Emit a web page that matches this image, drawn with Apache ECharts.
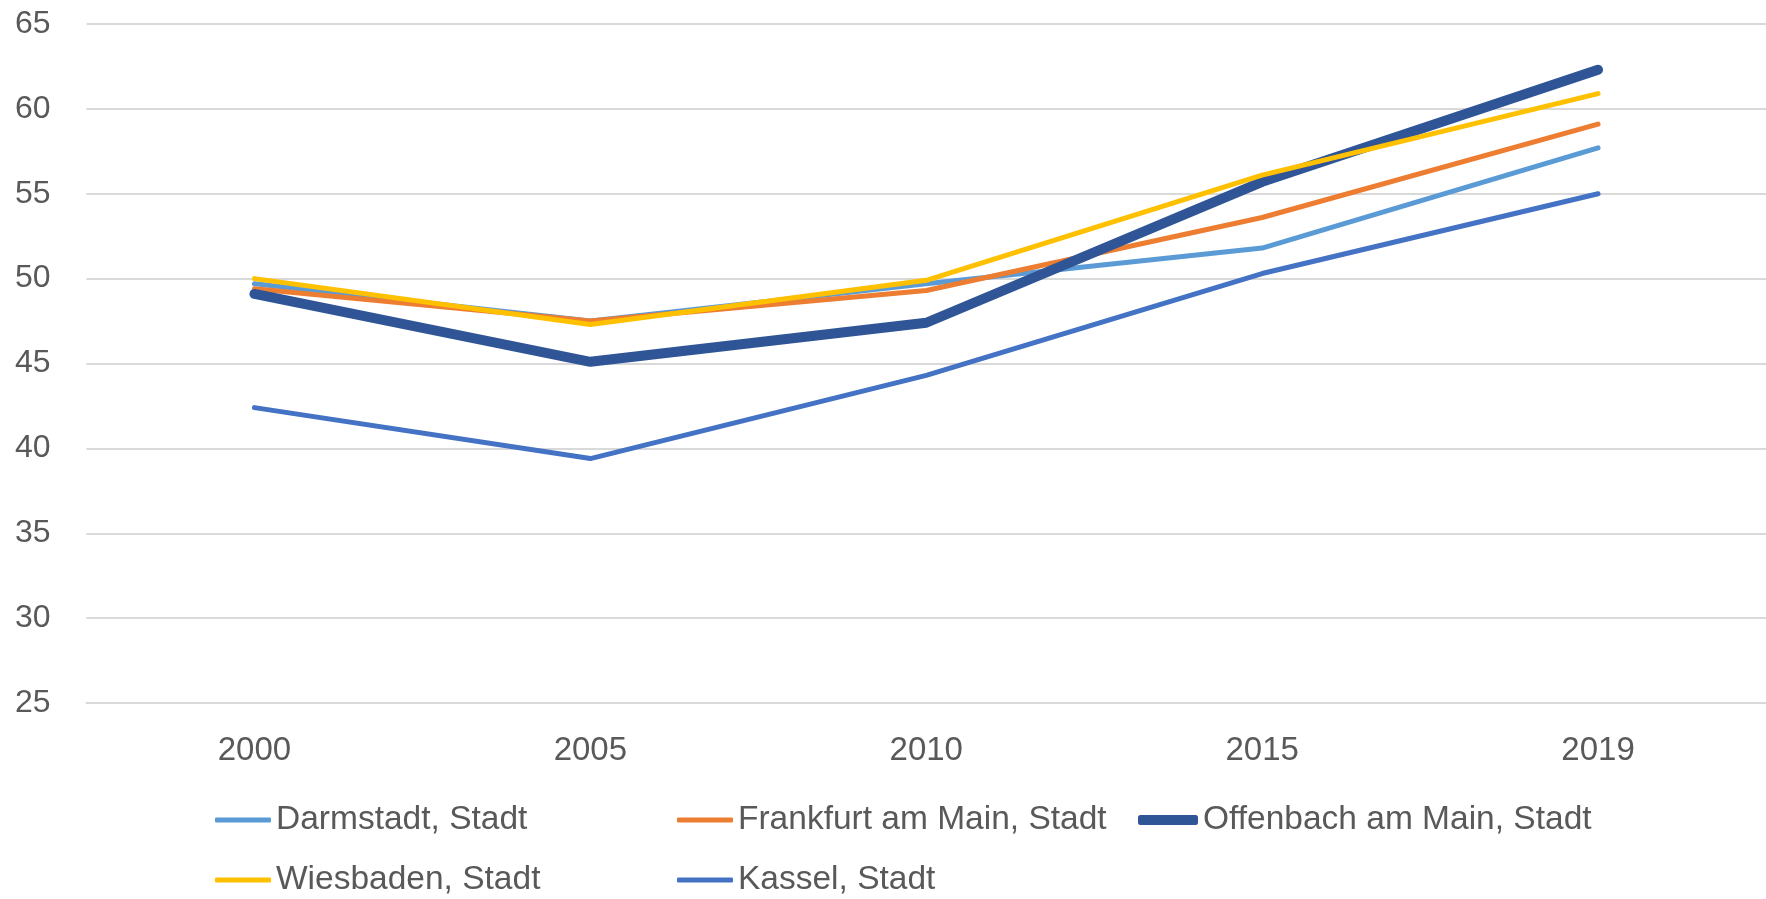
<!DOCTYPE html>
<html lang="de">

<head>
    <meta charset="UTF-8">
    <title>Hessen Städte</title>
    <script src="https://cdn.jsdelivr.net/npm/echarts@6/dist/echarts.min.js"></script>
    <style>
        html, body { margin: 0; padding: 0; background: #fff; }
    </style>
</head>

<body>
    <div id="main" style="width: 1766px;height:899px;"></div>

    <script type="text/javascript">
        // Values
        const years = ['2000', '2005', '2010', '2015', '2019'];
        const yTicks = [25, 30, 35, 40, 45, 50, 55, 60, 65];

        const darmstadt = [49.7, 47.5, 49.7, 51.8, 57.7];
        const frankfurt = [49.4, 47.5, 49.3, 53.6, 59.1];
        const offenbach = [49.1, 45.1, 47.4, 55.7, 62.3];
        const wiesbaden = [50.0, 47.3, 49.9, 56.1, 60.9];
        const kassel = [42.4, 39.4, 44.3, 50.3, 55.0];

        const seriesNames = ['Darmstadt, Stadt', 'Frankfurt am Main, Stadt', 'Offenbach am Main, Stadt', 'Wiesbaden, Stadt', 'Kassel, Stadt'];
        const seriesData = [darmstadt, frankfurt, offenbach, wiesbaden, kassel];
        const colors = ['#5B9BD5', '#ED7D31', '#2F5597', '#FFC000', '#4472C4'];
        const widths = [5, 5, 10, 5, 5];

        const font = '"Liberation Sans", Arial, sans-serif';
        const textColor = '#595959';

        // legend laid out in two rows, three columns, like the original
        const legendPos = [
            { left: 215, top: 800 },
            { left: 677, top: 800 },
            { left: 1138, top: 800 },
            { left: 215, top: 860 },
            { left: 677, top: 860 }
        ];

        let myChart = echarts.init(document.getElementById('main'));

        let options = {
            animation: false,
            color: colors,
            grid: { left: 86.5, right: -15, top: 24, bottom: 196, containLabel: false },
            legend: seriesNames.map((name, i) => ({
                data: [name],
                left: legendPos[i].left,
                top: legendPos[i].top,
                padding: 0,
                icon: 'roundRect',
                itemWidth: i === 2 ? 60 : 56,
                itemHeight: widths[i],
                itemStyle: { color: colors[i] },
                textStyle: { fontFamily: font, fontSize: 33.5, color: textColor, lineHeight: 40 }
            })),
            xAxis: {
                type: 'category',
                data: years,
                boundaryGap: true,
                axisTick: { show: false },
                axisLine: { lineStyle: { color: '#d9d9d9', width: 2 } },
                axisLabel: { fontFamily: font, fontSize: 33, color: textColor, margin: 31 }
            },
            yAxis: {
                type: 'value',
                min: yTicks[0],
                max: yTicks[yTicks.length - 1],
                interval: 5,
                axisLine: { show: false },
                axisTick: { show: false },
                splitLine: { lineStyle: { color: '#d9d9d9', width: 2 } },
                axisLabel: { fontFamily: font, fontSize: 32, color: textColor, margin: 36 }
            },
            series: seriesNames.map((name, i) => ({
                name: name,
                type: 'line',
                data: seriesData[i],
                symbol: 'none',
                lineStyle: { width: widths[i], color: colors[i], cap: 'round', join: 'round' },
                itemStyle: { color: colors[i] }
            }))
        };

        myChart.setOption(options);
    </script>
</body>

</html>
